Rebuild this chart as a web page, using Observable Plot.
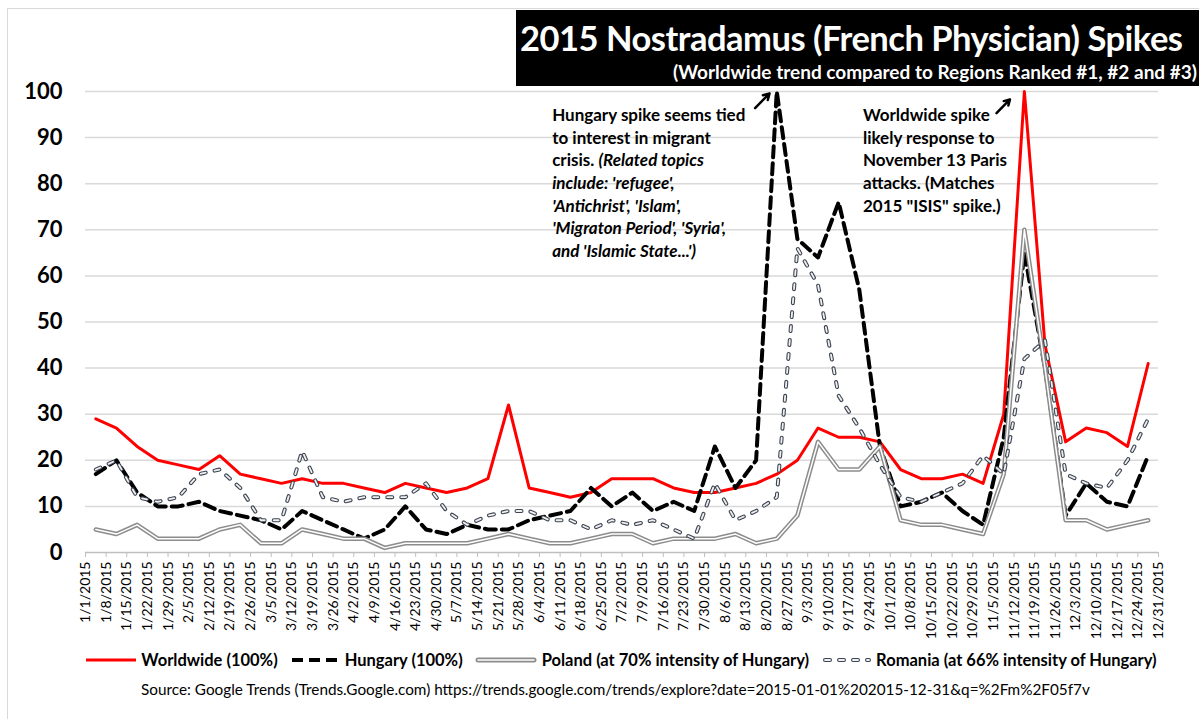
<!DOCTYPE html>
<html>
<head>
<meta charset="utf-8">
<script src="https://cdn.jsdelivr.net/npm/d3@7"></script>
<script src="https://cdn.jsdelivr.net/npm/@observablehq/plot@0.6"></script>
<style>
  html, body { margin: 0; padding: 0; background: #fff; }
  #wrap { position: relative; width: 1199px; height: 719px; overflow: hidden; font-family: Lato, "Open Sans", sans-serif; }
  #frame { position: absolute; left: 7px; top: 8px; width: 1300px; height: 800px; border-left: 1px solid #d9d9d9; border-top: 1px solid #d9d9d9; }
  #chart { position: absolute; left: 0; top: 0; }
  #titlebox { position: absolute; left: 516px; top: 10px; width: 700px; height: 76px; background: #000; color: #fff; }
  #title { position: absolute; left: 4px; top: 7px; font-size: 34.5px; font-weight: bold; white-space: nowrap; letter-spacing: -0.5px; }
  #subtitle { position: absolute; right: 19px; top: 50px; font-size: 19px; font-weight: bold; white-space: nowrap; }
  .note { position: absolute; font-size: 17px; font-weight: bold; line-height: 22.7px; color: #000; white-space: nowrap; }
  #legend { position: absolute; left: 22px; width: 1199px; top: 650px; display: flex; justify-content: center; align-items: center; font-size: 16.5px; font-weight: bold; color: #000; }
  #legend .item { display: flex; align-items: center; margin: 0 6px; }
  #legend svg { margin-right: 5px; }
  #source { position: absolute; left: 16px; width: 1199px; top: 680px; text-align: center; font-size: 15.3px; color: #000; }
</style>
</head>
<body>
<div id="wrap">
  <div id="frame"></div>
  <div id="chart"></div>
  <div id="titlebox">
    <div id="title"></div>
    <div id="subtitle"></div>
  </div>
  <div id="legend"></div>
  <div id="source"></div>
</div>
<script>
// ---- data ----
const weekLabels = ["1/1/2015","1/8/2015","1/15/2015","1/22/2015","1/29/2015","2/5/2015","2/12/2015","2/19/2015","2/26/2015","3/5/2015","3/12/2015","3/19/2015","3/26/2015","4/2/2015","4/9/2015","4/16/2015","4/23/2015","4/30/2015","5/7/2015","5/14/2015","5/21/2015","5/28/2015","6/4/2015","6/11/2015","6/18/2015","6/25/2015","7/2/2015","7/9/2015","7/16/2015","7/23/2015","7/30/2015","8/6/2015","8/13/2015","8/20/2015","8/27/2015","9/3/2015","9/10/2015","9/17/2015","9/24/2015","10/1/2015","10/8/2015","10/15/2015","10/22/2015","10/29/2015","11/5/2015","11/12/2015","11/19/2015","11/26/2015","12/3/2015","12/10/2015","12/17/2015","12/24/2015","12/31/2015"];
const worldwide = [29,27,23,20,19,18,21,17,16,15,16,15,15,14,13,15,14,13,14,16,32,14,13,12,13,16,16,16,14,13,13,14,15,17,20,27,25,25,24,18,16,16,17,15,30,100,45,24,27,26,23,41];
const hungary   = [17,20,13,10,10,11,9,8,7,5,9,7,5,3,5,10,5,4,6,5,5,7,8,9,14,10,13,9,11,9,23,14,20,100,68,64,76,57,23,10,11,13,9,6,25,65,40,8,15,11,10,21];
const poland    = [5,4,6,3,3,3,5,6,2,2,5,4,3,3,1,2,2,2,2,3,4,3,2,2,3,4,4,2,3,3,3,4,2,3,8,24,18,18,23,7,6,6,5,4,17,70,40,7,7,5,6,7];
const romania   = [18,20,12,11,12,17,18,14,7,7,22,12,11,12,12,12,15,9,6,8,9,9,7,7,5,7,6,7,5,3,15,7,9,12,66,58,34,27,19,12,11,13,15,21,17,42,46,17,15,14,20,29];
const yTicks = [0,10,20,30,40,50,60,70,80,90,100];
const seriesNames = ["Worldwide (100%)","Hungary (100%)","Poland (at 70% intensity of Hungary)","Romania (at 66% intensity of Hungary)"];
const titleText = "2015 Nostradamus (French Physician) Spikes";
const subtitleText = "(Worldwide trend compared to Regions Ranked #1, #2 and #3)";
const sourceText = "Source: Google Trends (Trends.Google.com) https://trends.google.com/trends/explore?date=2015-01-01%202015-12-31&q=%2Fm%2F05f7v";

// ---- styles ----
const RED = "#ff0000", GRAYP = "#8c8c8c", ROMO = "#3e4653", ROMI = "#f0f0f0";
const pos = (d, i) => i + 0.5;

const chart = Plot.plot({
  width: 1199,
  height: 650,
  marginLeft: 85,
  marginRight: 41,
  marginTop: 91,
  marginBottom: 98,
  style: { fontFamily: "Lato, sans-serif", background: "transparent", color: "#000", overflow: "visible" },
  x: { domain: [0, weekLabels.length - 1] },
  y: { domain: [0, 100] },
  marks: [
    Plot.gridY(yTicks.filter(t => t > 0), { stroke: "#d9d9d9", strokeOpacity: 1, strokeWidth: 1.5 }),
    Plot.axisY(yTicks, { tickSize: 0, tickPadding: 23, fontSize: 22, fontWeight: "bold", label: null }),
    Plot.axisX(d3.range(weekLabels.length), {
      tickFormat: i => weekLabels[i], tickRotate: -90, tickSize: 5, tickPadding: 4,
      fontSize: 14, stroke: "#bfbfbf", label: null
    }),
    Plot.ruleY([0], { stroke: "#bfbfbf", strokeWidth: 1.5 }),
    Plot.lineY(worldwide, { x: pos, y: d => d, stroke: RED, strokeWidth: 3 }),
    Plot.lineY(hungary, { x: pos, y: d => d, stroke: "#000", strokeWidth: 4, strokeDasharray: "11,6" }),
    Plot.lineY(poland, { x: pos, y: d => d, stroke: GRAYP, strokeWidth: 4.5 }),
    Plot.lineY(poland, { x: pos, y: d => d, stroke: "#fff", strokeWidth: 1.5 }),
    Plot.lineY(romania, { x: pos, y: d => d, stroke: ROMO, strokeWidth: 4, strokeDasharray: "5,9", strokeLinecap: "round" }),
    Plot.lineY(romania, { x: pos, y: d => d, stroke: ROMI, strokeWidth: 1.8, strokeDasharray: "5,9", strokeLinecap: "round" }),
    // annotation arrows near the two spikes
    Plot.arrow([{x1: 32.45, y1: 96.4, x2: 33.15, y2: 99.6}, {x1: 44.15, y1: 95.3, x2: 44.8, y2: 98.3}],
      { x1: "x1", y1: "y1", x2: "x2", y2: "y2", stroke: "#000", strokeWidth: 2.5, headLength: 8 })
  ]
});
document.getElementById("chart").appendChild(chart);

document.getElementById("title").textContent = titleText;
document.getElementById("subtitle").textContent = subtitleText;
document.getElementById("source").textContent = sourceText;

// annotations, positioned through the chart scales
const sx = chart.scale("x"), sy = chart.scale("y");
function note(html, xv, yv) {
  const d = document.createElement("div");
  d.className = "note";
  d.innerHTML = html;
  d.style.left = sx.apply(xv) + "px";
  d.style.top = sy.apply(yv) + "px";
  document.getElementById("wrap").appendChild(d);
}
note("Hungary spike seems tied<br>to interest in migrant<br>crisis. <i>(Related topics<br>include: 'refugee',<br>'Antichrist', 'Islam',<br>'Migraton Period', 'Syria',<br>and 'Islamic State...')</i>", 22.64, 97.2);
note("Worldwide spike<br>likely response to<br>November 13 Paris<br>attacks. (Matches<br>2015 \"ISIS\" spike.)", 37.7, 97.2);

// legend
const swatches = [
  `<svg width="50" height="10"><line x1="0" y1="5" x2="50" y2="5" stroke="${RED}" stroke-width="3"/></svg>`,
  `<svg width="50" height="10"><line x1="2" y1="5" x2="50" y2="5" stroke="#000" stroke-width="4" stroke-dasharray="11,6"/></svg>`,
  `<svg width="62" height="10"><line x1="3" y1="5" x2="59" y2="5" stroke="${GRAYP}" stroke-width="5" stroke-linecap="round"/><line x1="3" y1="5" x2="59" y2="5" stroke="#fff" stroke-width="1.6" stroke-linecap="round"/></svg>`,
  `<svg width="50" height="10"><line x1="4" y1="5" x2="48" y2="5" stroke="${ROMO}" stroke-width="4" stroke-dasharray="5,9" stroke-linecap="round"/><line x1="4" y1="5" x2="48" y2="5" stroke="${ROMI}" stroke-width="1.8" stroke-dasharray="5,9" stroke-linecap="round"/></svg>`
];
document.getElementById("legend").innerHTML = seriesNames.map((n, k) =>
  `<div class="item">${swatches[k]}<span>${n}</span></div>`).join("");
</script>
</body>
</html>
